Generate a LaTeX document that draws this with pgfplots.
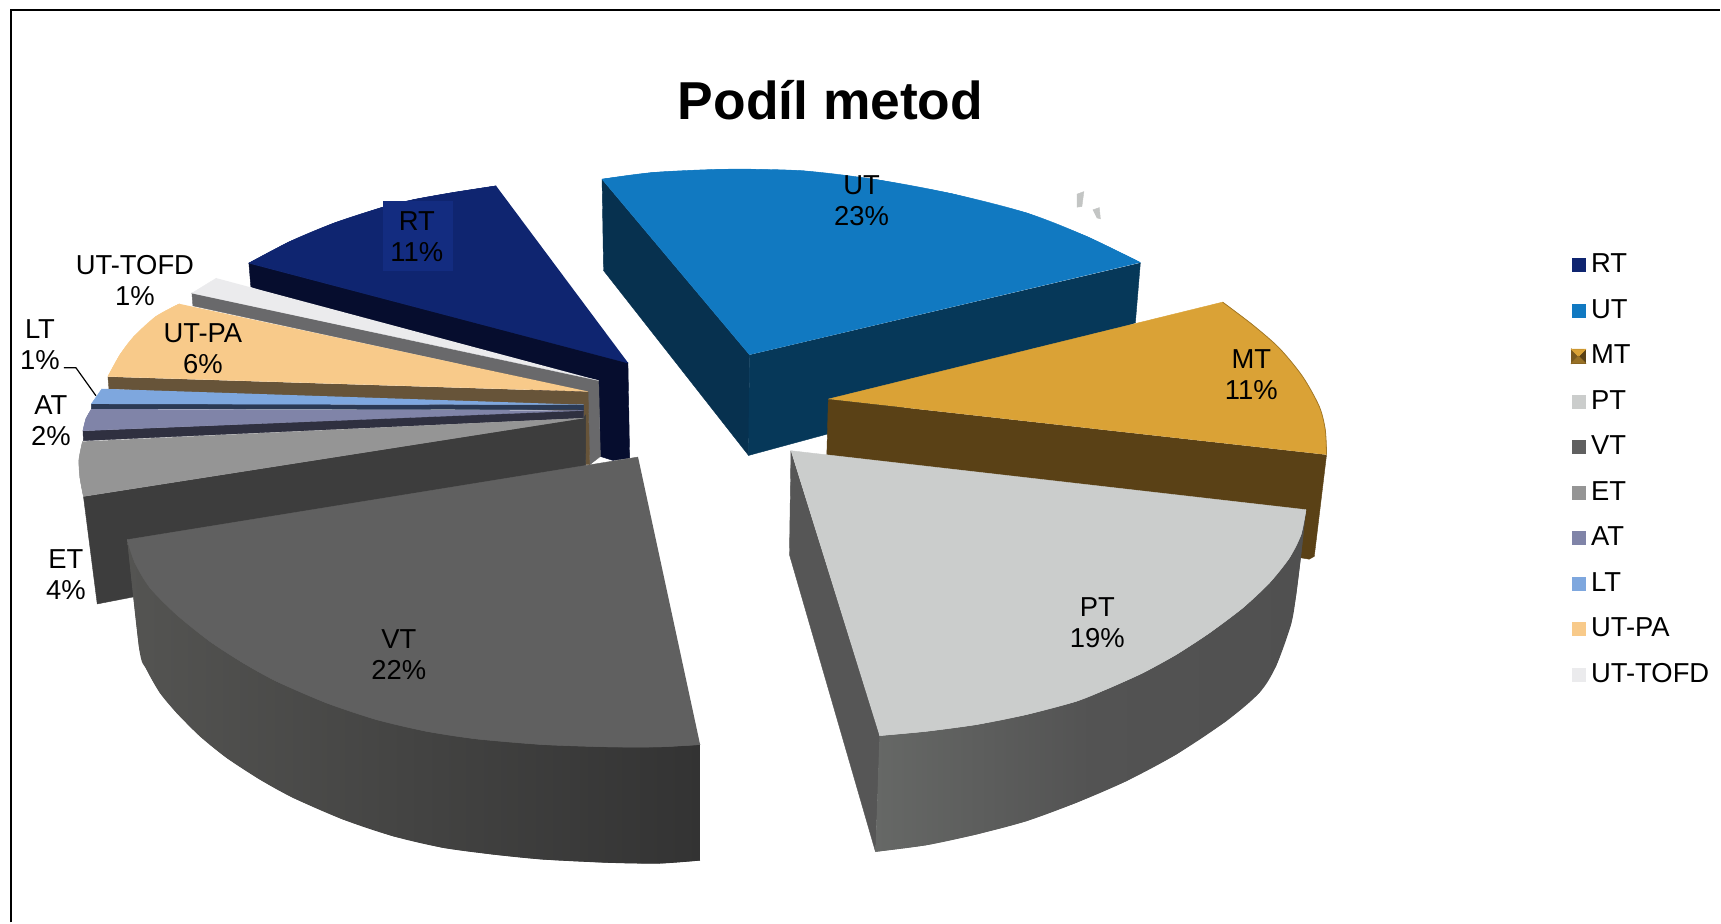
\documentclass[border=0pt]{standalone}
\usepackage{fontspec}
\setmainfont{Liberation Sans}
\usepackage{pgfplots}
\pgfplotsset{compat=1.18}
\definecolor{rtT}{HTML}{0F2570}
\definecolor{rtS}{HTML}{060D2E}
\definecolor{rtL}{HTML}{132C80}
\definecolor{utT}{HTML}{1179C1}
\definecolor{utL}{HTML}{07314F}
\definecolor{utR}{HTML}{063859}
\definecolor{mtT}{HTML}{DAA236}
\definecolor{mtS}{HTML}{5A4116}
\definecolor{ptT}{HTML}{CBCDCC}
\definecolor{ptS}{HTML}{565656}
\definecolor{ptA}{HTML}{666866}
\definecolor{ptB}{HTML}{535353}
\definecolor{ptC}{HTML}{505050}
\definecolor{vtT}{HTML}{606060}
\definecolor{vtA}{HTML}{545452}
\definecolor{vtB}{HTML}{333333}
\definecolor{etT}{HTML}{959595}
\definecolor{etS}{HTML}{3D3D3D}
\definecolor{atT}{HTML}{8084A8}
\definecolor{atS}{HTML}{2F3040}
\definecolor{ltT}{HTML}{7EA7DE}
\definecolor{ltS}{HTML}{2B3A55}
\definecolor{paT}{HTML}{F8CA8A}
\definecolor{paS}{HTML}{675439}
\definecolor{toT}{HTML}{EBEBED}
\definecolor{toS}{HTML}{69696B}
\newcommand{\fs}{\fontsize{13.7pt}{15.4pt}\selectfont}
\tikzset{
  part/.style={draw=#1,fill=#1,line width=0.2pt,line join=round},
  lab/.style={align=center,font=\fs,inner sep=0pt,text=black},
  ptshade/.style={draw=none,left color=ptA,right color=ptC,middle color=ptB},
  vtshade/.style={draw=none,left color=vtA,right color=vtB},
}
\pgfplotsset{
  swatch/.style={legend image code/.code={\fill[##1,draw=none] (0pt,-3.5pt) rectangle (7pt,3.5pt); \path[draw=none,fill=none] (7pt,0pt) rectangle (9.8pt,0pt);}},
}
\begin{document}
\begin{tikzpicture}
\begin{axis}[
  width=860.5pt,height=461.5pt,scale only axis,
  xmin=0,xmax=1721,ymin=0,ymax=923,y dir=reverse,
  hide axis,clip=false,
  legend cell align=left,
  legend style={draw=none,fill=none,inner sep=0pt,outer sep=0pt,
    at={(axis cs:1572,252)},anchor=north west,font=\fs,row sep=9.25pt,
    nodes={inner sep=0pt,text height=10.5pt,text depth=3pt},
    /tikz/every even column/.append style={column sep=3pt}},
  swatch,
]
% page extent
\addplot[forget plot,draw=none] coordinates {(0,0)(1721,923)};
% frame
\addplot[forget plot,black,line width=1pt] coordinates {(11,923)(11,10)(1721,10)};

% RT
\addplot[forget plot,part=rtS] coordinates {(249,263)(251,287)(600,415)(600.7,456.7)(613.3,460.7)(630,458.3)(628.3,362.7)};
\addplot[forget plot,part=rtT] coordinates {(628.6,363.3)(249,263.3)(290,241.7)(334.8,223)(384,207)(415,199.5)(453,192.7)(496.4,186)};
\addplot[forget plot,smooth,part=rtT] coordinates {(249,263.3)(290,241.7)(334.8,223)(384,207)(415,199.5)(453,192.7)(496.4,186)};
\addplot[forget plot,draw=none,fill=rtL] coordinates {(383,201)(453,201)(453,270.7)(383,270.7)};
% small grey bits
\addplot[forget plot,part=ptT!90!gray] coordinates {(1077.5,194.3)(1084.5,191.7)(1082.5,206.7)(1077.5,207.3)};
\addplot[forget plot,part=ptT!90!gray] coordinates {(1093.4,210)(1100,207.7)(1101,219)(1097.4,218)};

% UT-TOFD
\addplot[forget plot,part=toS] coordinates {(192,293)(193,306)(588,392)(590,465)(600.7,456.7)(599,380.7)};
\addplot[forget plot,part=toT] coordinates {(216.5,278.3)(192,293.3)(599,380.7)};

% UT-PA
\addplot[forget plot,part=paS] coordinates {(108,377)(109,389)(584,412)(586,465)(590,465)(588.4,392)};
\addplot[forget plot,part=paT] coordinates {(588.4,391.7)(108,376.7)(120,355)(134,336.7)(156,316.7)(179.5,304)};
\addplot[forget plot,smooth,part=paT] coordinates {(108,376.7)(120,355)(134,336.7)(156,316.7)(179.5,304)};

% LT
\addplot[forget plot,part=ltS] coordinates {(91.5,404)(91.5,409)(584,410)(584,405)};
\addplot[forget plot,part=ltT] coordinates {(102,389)(91.5,404)(584,405)};

% AT
\addplot[forget plot,part=atS] coordinates {(83,431)(83.5,441)(584,418.3)(584,410)};
\addplot[forget plot,part=atT] coordinates {(584,410.7)(83,431)(86,419)(91.5,409.3)};
\addplot[forget plot,smooth,part=atT] coordinates {(83,431)(86,419)(91.5,409.3)};

% ET
\addplot[forget plot,part=etS] coordinates {(83.5,496.7)(97.3,604.3)(140,596)(586,470)(586,415)(584,418)};
\addplot[forget plot,part=etT] coordinates {(584,418.3)(83.5,496.7)(80,478)(79,460)(82.6,441.7)};
\addplot[forget plot,smooth,part=etT] coordinates {(83.5,496.7)(80,478)(79,460)(82.6,441.7)};

% UT
\addplot[forget plot,part=utL] coordinates {(602.4,179.3)(603.9,270.7)(749,455.7)(750,355)};
\addplot[forget plot,part=utR] coordinates {(750,355)(749,455.7)(840,431)(1136,323)(1141,263)};
\addplot[forget plot,part=utT] coordinates {(750,355)(602.4,179.3)(654.6,172.5)(729,169.3)(804,171)(878.5,180)(953,194)(1027.8,213.3)(1087.5,236.7)(1141,262.7)};
\addplot[forget plot,smooth,part=utT] coordinates {(602.4,179.3)(654.6,172.5)(729,169.3)(804,171)(878.5,180)(953,194)(1027.8,213.3)(1087.5,236.7)(1141,262.7)};

% MT
\addplot[forget plot,part=mtS] coordinates {(828.8,399.3)(827.3,455)(1300.7,558)(1310,559.5)(1315,556.7)(1327.3,455)};
\addplot[forget plot,part=mtT] coordinates {(828.8,399.3)(1223.3,302.3)(1253.3,325)(1280,348.3)(1303.3,376.7)(1320,406.7)(1326,430)(1327.3,455)};
\addplot[forget plot,smooth,draw=mtT!75!black,fill=mtT,line width=0.4pt] coordinates {(1223.3,302.3)(1253.3,325)(1280,348.3)(1303.3,376.7)(1320,406.7)(1326,430)(1327.3,455)};

% PT
\addplot[forget plot,part=ptS] coordinates {(791.4,451)(789.9,555)(876,852.3)(880.5,736)};
\addplot[forget plot,ptshade] coordinates {(880,736)(876,852.3)(926.7,845.7)(976.7,835)(1026.7,821.7)(1076.7,803.3)(1126.7,781.7)(1176.7,755)(1226.7,721.7)(1260,693.3)(1276.7,666.7)(1291.7,625)(1296.7,596.7)(1301.7,556.7)(1306.7,510)};
\addplot[forget plot,smooth,ptshade] coordinates {(876,852.3)(926.7,845.7)(976.7,835)(1026.7,821.7)(1076.7,803.3)(1126.7,781.7)(1176.7,755)(1226.7,721.7)(1260,693.3)(1276.7,666.7)(1291.7,625)(1296.7,596.7)(1301.7,556.7)(1306.7,510)};
\addplot[forget plot,part=ptT] coordinates {(791.4,451)(1306.7,510)(1301.7,535)(1290,558.3)(1270,583.3)(1243.3,608.3)(1210,633.3)(1176.7,655)(1143.3,673.3)(1110,688.3)(1076.7,701.7)(1026.7,715)(976.7,725)(926.7,731.7)(880,736)};
\addplot[forget plot,smooth,part=ptT] coordinates {(1306.7,510)(1301.7,535)(1290,558.3)(1270,583.3)(1243.3,608.3)(1210,633.3)(1176.7,655)(1143.3,673.3)(1110,688.3)(1076.7,701.7)(1026.7,715)(976.7,725)(926.7,731.7)(880,736)};

% VT
\addplot[forget plot,vtshade] coordinates {(127.3,540)(139.3,649.3)(146.7,670)(160,693.3)(176.7,713.3)(200,736.7)(226.7,758.3)(260,780)(293.3,798.3)(343.3,820)(393.3,836.7)(443.3,848.3)(493.3,855)(543.3,860)(610,863.3)(660,864)(700.5,861)(700.5,745)(400,700)};
\addplot[forget plot,smooth,vtshade] coordinates {(127.3,540)(139.3,649.3)(146.7,670)(160,693.3)(176.7,713.3)(200,736.7)(226.7,758.3)(260,780)(293.3,798.3)(343.3,820)(393.3,836.7)(443.3,848.3)(493.3,855)(543.3,860)(610,863.3)(660,864)(700.5,861)};
\addplot[forget plot,part=vtT] coordinates {(638.4,457.3)(127.3,540)(135,563)(150,588)(176.7,615)(210,641.7)(243.3,663.3)(276.7,681.7)(326.7,703.3)(376.7,720)(426.7,731.7)(476.7,739.3)(543.3,745)(610,747.3)(660,747.3)(700.5,745)};
\addplot[forget plot,smooth,part=vtT] coordinates {(127.3,540)(135,563)(150,588)(176.7,615)(210,641.7)(243.3,663.3)(276.7,681.7)(326.7,703.3)(376.7,720)(426.7,731.7)(476.7,739.3)(543.3,745)(610,747.3)(660,747.3)(700.5,745)};

% leader line
\addplot[forget plot,black,line width=0.6pt] coordinates {(64,368)(76,368)(96,396)};

% labels
\node[lab] at (axis cs:417,237) {RT\\11\%};
\node[lab] at (axis cs:862,201) {UT\\23\%};
\node[lab] at (axis cs:1252,375) {MT\\11\%};
\node[lab] at (axis cs:1098,623) {PT\\19\%};
\node[lab] at (axis cs:399,655) {VT\\22\%};
\node[lab] at (axis cs:66,575) {ET\\4\%};
\node[lab] at (axis cs:51,421) {AT\\2\%};
\node[lab] at (axis cs:40,345) {LT\\1\%};
\node[lab] at (axis cs:203,349) {UT-PA\\6\%};
\node[lab] at (axis cs:135,281) {UT-TOFD\\1\%};
\node[font=\fontsize{26.7pt}{30pt}\selectfont\bfseries,inner sep=0pt] at (axis cs:831,100.5) {Podíl metod};

% legend
\addlegendimage{fill=rtT}\addlegendentry{RT}
\addlegendimage{fill=utT}\addlegendentry{UT}
\addlegendimage{legend image code/.code={
  \fill[mtS] (0pt,-3.5pt) rectangle (7pt,3.5pt);
  \fill[mtS!75!mtT] (0pt,-3.5pt) -- (3.5pt,0pt) -- (0pt,3.5pt) -- cycle;
  \fill[mtT] (0pt,3.5pt) -- (7pt,3.5pt) -- (3.5pt,0pt) -- cycle;
  \fill[mtT!70!black] (0pt,-3.5pt) -- (7pt,-3.5pt) -- (3.5pt,0pt) -- cycle;
  \path[draw=none,fill=none] (7pt,0pt) rectangle (9.8pt,0pt);}}\addlegendentry{MT}
\addlegendimage{fill=ptT}\addlegendentry{PT}
\addlegendimage{fill=vtT}\addlegendentry{VT}
\addlegendimage{fill=etT}\addlegendentry{ET}
\addlegendimage{fill=atT}\addlegendentry{AT}
\addlegendimage{fill=ltT}\addlegendentry{LT}
\addlegendimage{fill=paT}\addlegendentry{UT-PA}
\addlegendimage{fill=toT}\addlegendentry{UT-TOFD}
\end{axis}
\end{tikzpicture}
\end{document}
